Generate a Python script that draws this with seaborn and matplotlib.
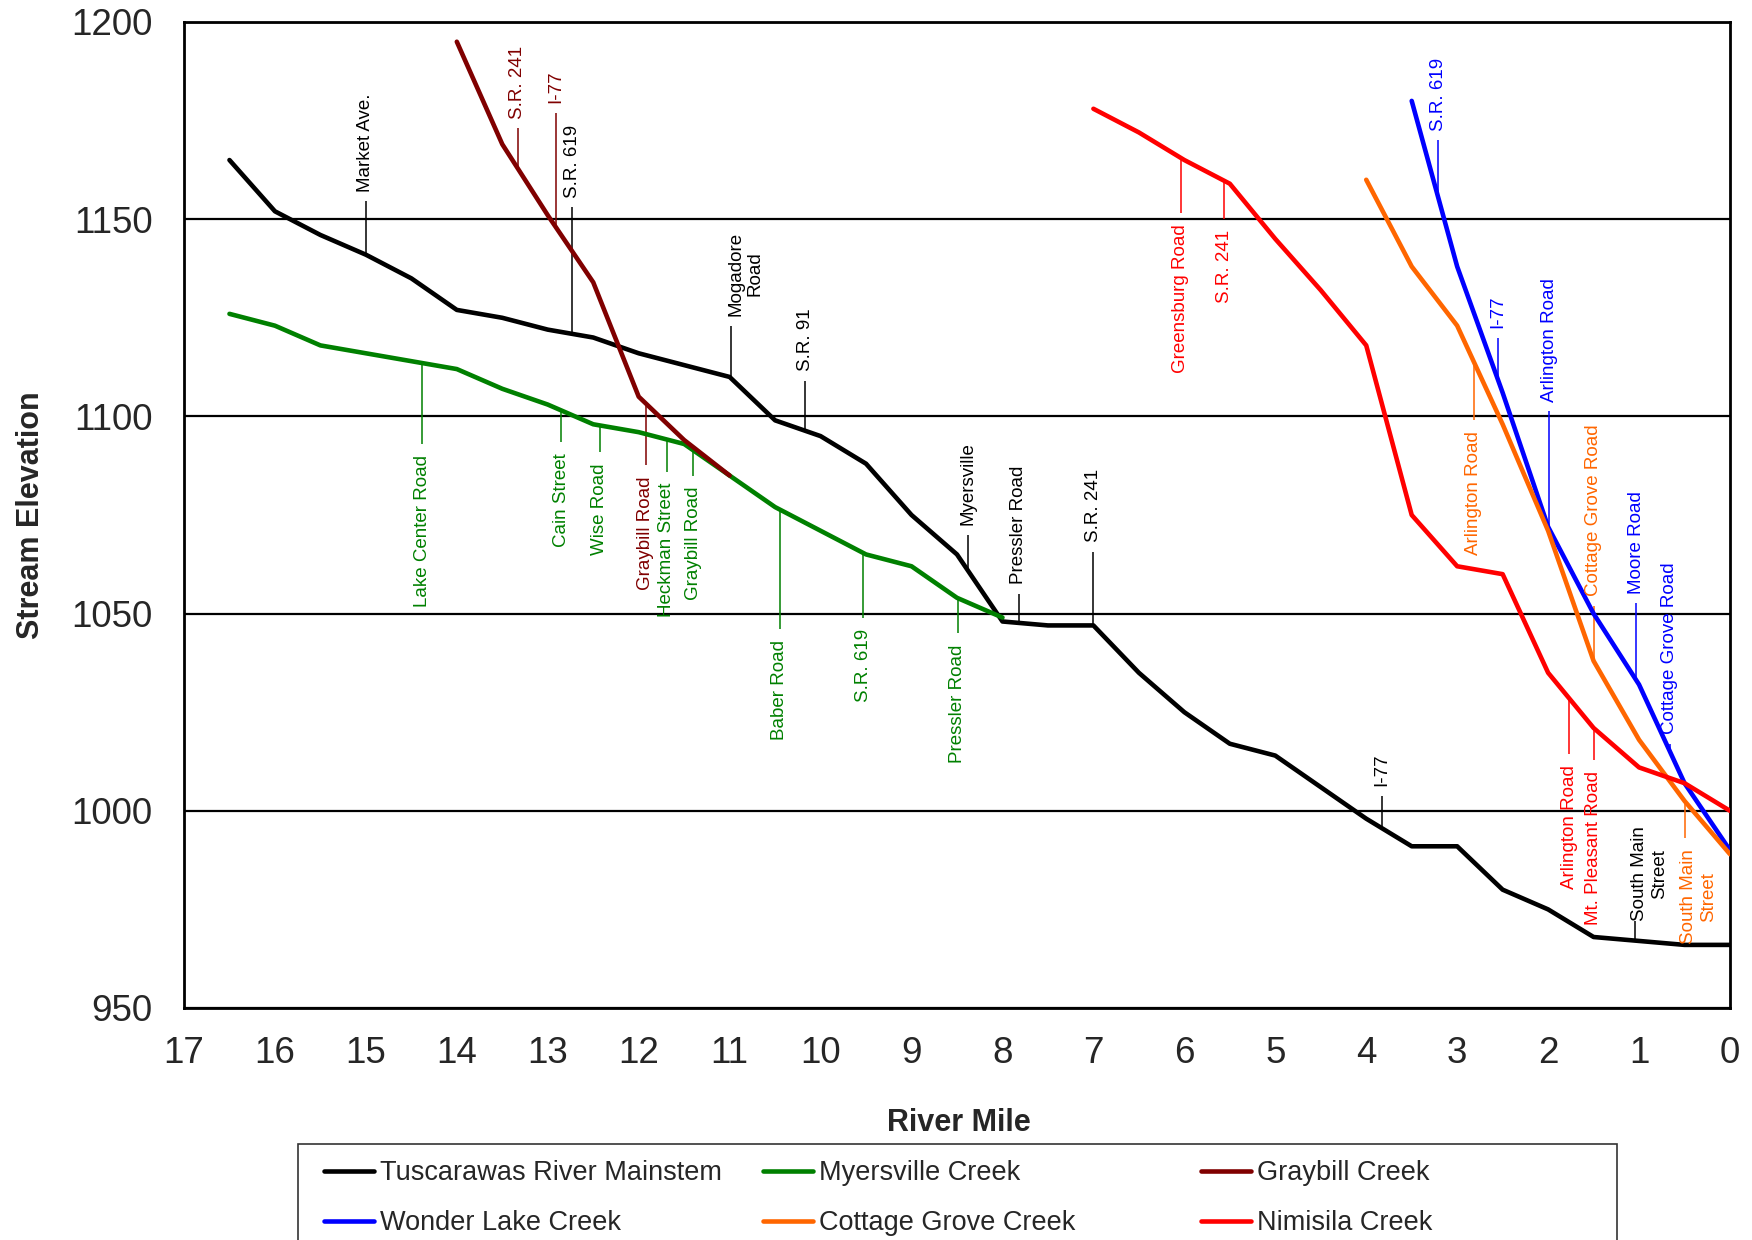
import numpy as np
import pandas as pd
import matplotlib
matplotlib.use("Agg")
import matplotlib.pyplot as plt
from matplotlib.ticker import MultipleLocator
from matplotlib.lines import Line2D
from matplotlib.patches import Rectangle
import seaborn as sns

# stream profiles (river mile, elevation)
main_mile = [16.5, 16, 15.5, 15, 14.5, 14, 13.5, 13, 12.5, 12, 11.5, 11, 10.5, 10, 9.5, 9, 8.5, 8,
             7.5, 7, 6.5, 6, 5.5, 5, 4.5, 4, 3.5, 3, 2.5, 2, 1.5, 1, 0.5, 0]
main_elev = [1165, 1152, 1146, 1141, 1135, 1127, 1125, 1122, 1120, 1116, 1113, 1110, 1099, 1095, 1088, 1075,
             1065, 1048, 1047, 1047, 1035, 1025, 1017, 1014, 1006, 998, 991, 991, 980, 975, 968, 967, 966, 966]

myers_mile = [16.5, 16, 15.5, 15, 14.5, 14, 13.5, 13, 12.5, 12, 11.5, 11, 10.5, 10, 9.5, 9, 8.5, 8]
myers_elev = [1126, 1123, 1118, 1116, 1114, 1112, 1107, 1103, 1098, 1096, 1093, 1085, 1077, 1071, 1065, 1062, 1054, 1049]

gray_mile = [14, 13.5, 13, 12.5, 12, 11.5, 11]
gray_elev = [1195, 1169, 1151, 1134, 1105, 1094, 1085]

wonder_mile = [3.5, 3.0, 2.5, 2.0, 1.5, 1.0, 0.5, 0]
wonder_elev = [1180, 1138, 1106, 1072, 1050, 1032, 1007, 990]

cottage_mile = [4.0, 3.5, 3.0, 2.5, 2.0, 1.5, 1.0, 0.5, 0]
cottage_elev = [1160, 1138, 1123, 1098, 1071, 1038, 1018, 1002.5, 989]

nimi_mile = [7, 6.5, 6, 5.5, 5, 4.5, 4, 3.5, 3, 2.5, 2, 1.5, 1, 0.5, 0]
nimi_elev = [1178, 1172, 1165, 1159, 1145, 1132, 1118, 1075, 1062, 1060, 1035, 1021, 1011, 1007, 1000]

streams = ["Tuscarawas River Mainstem", "Myersville Creek", "Graybill Creek",
           "Wonder Lake Creek", "Cottage Grove Creek", "Nimisila Creek"]
colors = ["black", "#008000", "#800000", "#0000FF", "#FF6600", "#FF0000"]

# road crossings: (river mile, end of leader line, label, up/down)
main_roads = [(15.0, 1154.5, "Market Ave.", "up"), (12.73, 1153, "S.R. 619", "up"),
              (10.98, 1123, "Mogadore\nRoad", "up"), (10.17, 1109, "S.R. 91", "up"),
              (8.38, 1070, "Myersville", "up"), (7.82, 1055, "Pressler Road", "up"),
              (7.0, 1065.6, "S.R. 241", "up"), (3.83, 1003.7, "I-77", "up"),
              (1.04, 972, "South Main\nStreet", "up")]
myers_roads = [(14.38, 1093, "Lake Center Road", "down"), (12.85, 1093.5, "Cain Street", "down"),
               (12.43, 1091, "Wise Road", "down"), (11.69, 1086, "Heckman Street", "down"),
               (11.4, 1085, "Graybill Road", "down"), (10.45, 1046, "Baber Road", "down"),
               (9.53, 1049, "S.R. 619", "down"), (8.49, 1045, "Pressler Road", "down")]
gray_roads = [(13.33, 1173, "S.R. 241", "up"), (12.91, 1177, "I-77", "up"),
              (11.92, 1087.6, "Graybill Road", "down")]
wonder_roads = [(3.21, 1170, "S.R. 619", "up"), (2.55, 1120, "I-77", "up"),
                (1.99, 1101.3, "Arlington Road", "up"), (1.03, 1052.6, "Moore Road", "up"),
                (0.66, 1017, "Cottage Grove Road", "up")]
cottage_roads = [(2.82, 1099, "Arlington Road", "down"), (1.5, 1052, "Cottage Grove Road", "up"),
                 (0.5, 993, "South Main\nStreet", "down")]
nimi_roads = [(6.04, 1151.6, "Greensburg Road", "down"), (5.56, 1150, "S.R. 241", "down"),
              (1.77, 1014.4, "Arlington Road", "down"), (1.5, 1013, "Mt. Pleasant Road", "down")]

miles = [main_mile, myers_mile, gray_mile, wonder_mile, cottage_mile, nimi_mile]
elevs = [main_elev, myers_elev, gray_elev, wonder_elev, cottage_elev, nimi_elev]
roads = [main_roads, myers_roads, gray_roads, wonder_roads, cottage_roads, nimi_roads]

rows = []
for s, mi, el in zip(streams, miles, elevs):
    for m, e in zip(mi, el):
        rows.append((s, m, e))
df = pd.DataFrame(rows, columns=["stream", "mile", "elev"])

sns.set_style("white")
plt.rcParams["font.family"] = ["Liberation Sans", "DejaVu Sans"]

fig = plt.figure(figsize=(17.52, 12.4), dpi=100)
ax = fig.add_axes([0.10502, 0.18710, 0.88242, 0.79516])

sns.lineplot(data=df, x="mile", y="elev", hue="stream", hue_order=streams,
             palette=dict(zip(streams, colors)), sort=False, estimator=None,
             linewidth=3.3, legend=False, ax=ax, zorder=3, solid_capstyle="round")

# leader lines and rotated labels
for c, mi, el, rd in zip(colors, miles, elevs, roads):
    for mile, end, text, side in rd:
        y0 = np.interp(mile, mi[::-1], el[::-1])
        ax.vlines(mile, y0, end, color=c, linewidth=1.1, zorder=2)
        multi = "\n" in text
        dx = -3 if multi else 0
        if side == "up":
            dy = 0 if text == "South Main\nStreet" else 7
            va = "bottom"
        else:
            dy = -8
            va = "top"
        ax.annotate(text, xy=(mile, end), xytext=(dx, dy), textcoords="offset points",
                    rotation=90, ha="left" if multi else "center", va=va,
                    multialignment="center", fontsize=13.5, color=c, zorder=4)

ax.set_xlim(17, 0)
ax.set_ylim(950, 1200)
ax.set_xticks(range(0, 18))
ax.xaxis.set_minor_locator(MultipleLocator(0.5))
ax.set_yticks(range(950, 1201, 50))
ax.yaxis.set_minor_locator(MultipleLocator(25))
ax.tick_params(which="major", direction="out", length=8.5, width=1.1, color="#444444", labelsize=26.5)
ax.tick_params(which="minor", direction="inout", length=12, width=1.0, color="#444444")
ax.tick_params(axis="y", which="major", pad=14)
ax.tick_params(axis="x", which="major", pad=12)
ax.grid(axis="y", which="major", color="black", linewidth=1.6)
ax.grid(axis="x", visible=False)
for sp in ax.spines.values():
    sp.set_color("black")
    sp.set_linewidth(2)

ax.set_xlabel("River Mile", fontsize=22, fontweight="bold")
ax.set_ylabel("Stream Elevation", fontsize=22, fontweight="bold")
ax.xaxis.set_label_coords(0.5013, -0.101)
ax.yaxis.set_label_coords(-0.0895, 0.5)

# legend: three columns placed like the original, one frame around them
handles = [Line2D([], [], color=c, linewidth=3.3, solid_capstyle="round") for c in colors]
for col, x in zip([(0, 3), (1, 4), (2, 5)], [324, 763, 1201]):
    fig.legend([handles[i] for i in col], [streams[i] for i in col], loc="upper left",
               bbox_to_anchor=(x / 1752, 1 - 1160 / 1240), frameon=False, fontsize=19.5,
               handlelength=1.85, handletextpad=0.2, labelspacing=0.9,
               borderpad=0, borderaxespad=0)
fig.add_artist(Rectangle((298 / 1752, -0.1), (1617 - 298) / 1752, 0.1 + 1 - 1144 / 1240,
                         transform=fig.transFigure, fill=False, edgecolor="#333333", linewidth=1.2))

fig.savefig("out.png", dpi=100)
